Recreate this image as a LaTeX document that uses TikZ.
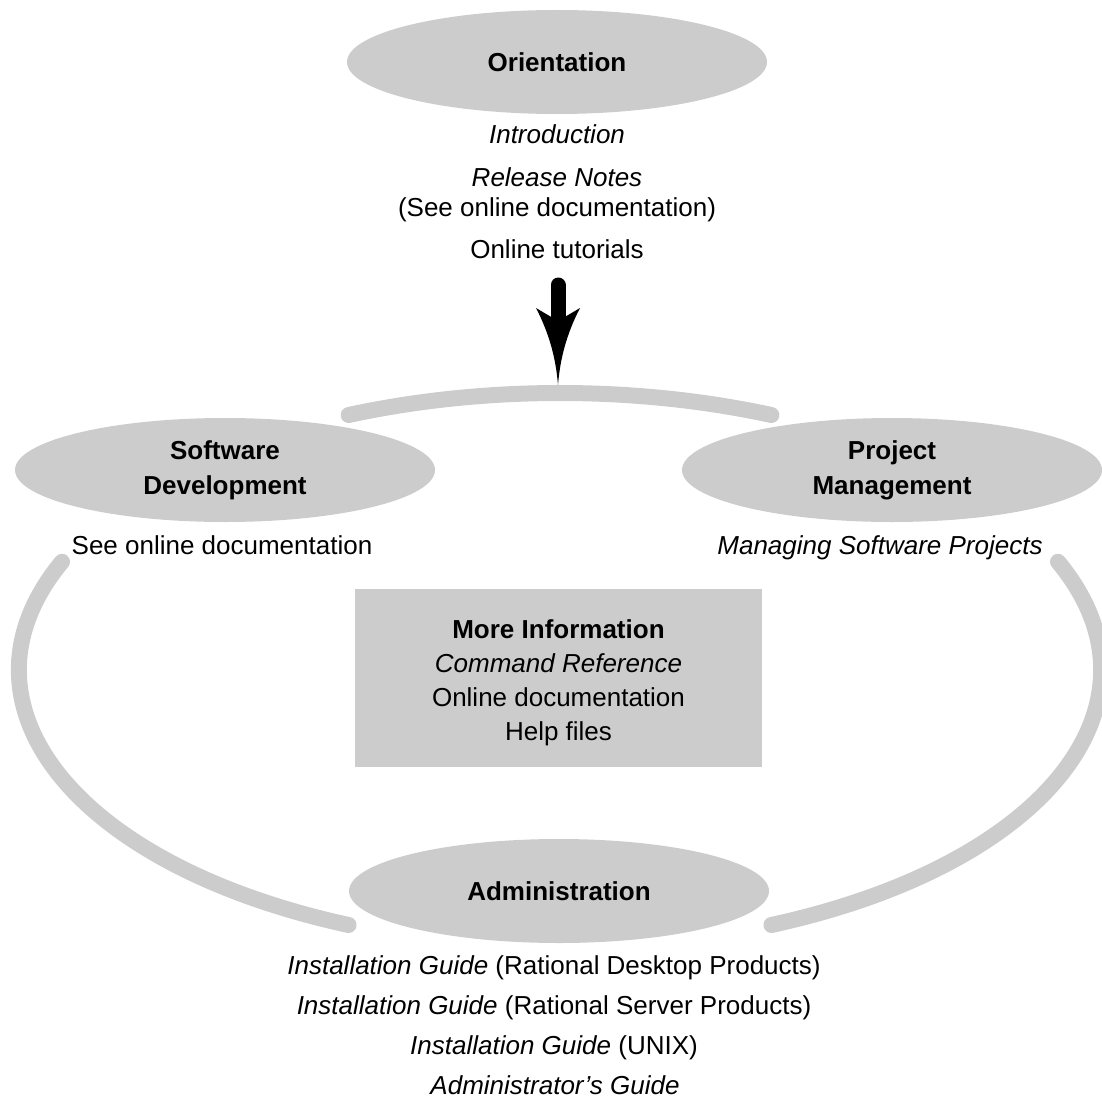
\documentclass[tikz,border=0pt]{standalone}
\usepackage{fontspec}
\setmainfont{Liberation Sans}
\usetikzlibrary{shapes.geometric,calc}
\definecolor{shade}{HTML}{CCCCCC}
\begin{document}
\begin{tikzpicture}[x=0.5pt,y=-0.5pt,
	font=\fontsize{13}{17.5}\selectfont,
	area/.style={ellipse,fill=shade,minimum width=210pt,minimum height=52pt,inner sep=0pt,align=center,font=\fontsize{13}{17.5}\selectfont\bfseries},
	txt/.style={anchor=base,inner sep=0pt},
	ring/.style={draw=shade,line width=8pt,line cap=round}]
	\useasboundingbox (0,0) rectangle (1102,1097);
	% draw the ring (three pieces of one ellipse)
	\coordinate (ctr) at (560,670);
	\foreach \a/\b in {-113/-67,113/203,-23/67}{\draw[ring] ($(ctr)+(\a:541 and 277)$) arc[start angle=\a,end angle=\b,x radius=541,y radius=277];}
	% draw the areas
	\node[area] (orient) at (557,62) {Orientation};
	\node[area] (softdev) at (225,470) {Software\\Development};
	\node[area] (projmgt) at (892,470) {Project\\Management};
	\node[area] (admin) at (559,891) {Administration};
	% texts under the areas
	\node[txt] (intro) at (557,143) {\textit{Introduction}};
	\node[txt] (relnotes) at (557,186) {\textit{Release Notes}};
	\node[txt] (seedoc) at (557,216) {(See online documentation)};
	\node[txt] (tutor) at (557,258) {Online tutorials};
	\node[txt] (sdnote) at (222,554) {See online documentation};
	\node[txt] (pmnote) at (880,554) {\textit{Managing Software Projects}};
	\foreach \t [count=\i] in {{(Rational Desktop Products)},{(Rational Server Products)},{(UNIX)}}{\node[txt] (guide\i) at (554,{974+(\i-1)*40}) {\textit{Installation Guide} \t};}
	\node[txt] (adminguide) at (555,1094) {\textit{Administrator's Guide}};
	% more information box
	\node[fill=shade,minimum width=203.5pt,minimum height=89pt] (moreinfo) at (558.5,678) {};
	\node[align=center,font=\fontsize{13}{17}\selectfont] (moreinfotxt) at ($(moreinfo)+(0,5)$) {\textbf{More Information}\\\textit{Command Reference}\\Online documentation\\Help files};
	% draw the arrow
	\coordinate (atop) at (558,285);
	\coordinate (atip) at (558,385);
	\draw[line width=7.5pt,line cap=round] (atop) -- ($(atip)+(0,-62)$);
	\fill[shift={(atip)}] (0,0) .. controls (2,-25) and (8,-50) .. (22,-77) -- (0,-64) -- (-22,-77) .. controls (-8,-50) and (-2,-25) .. (0,0) -- cycle;
\end{tikzpicture}
\end{document}
